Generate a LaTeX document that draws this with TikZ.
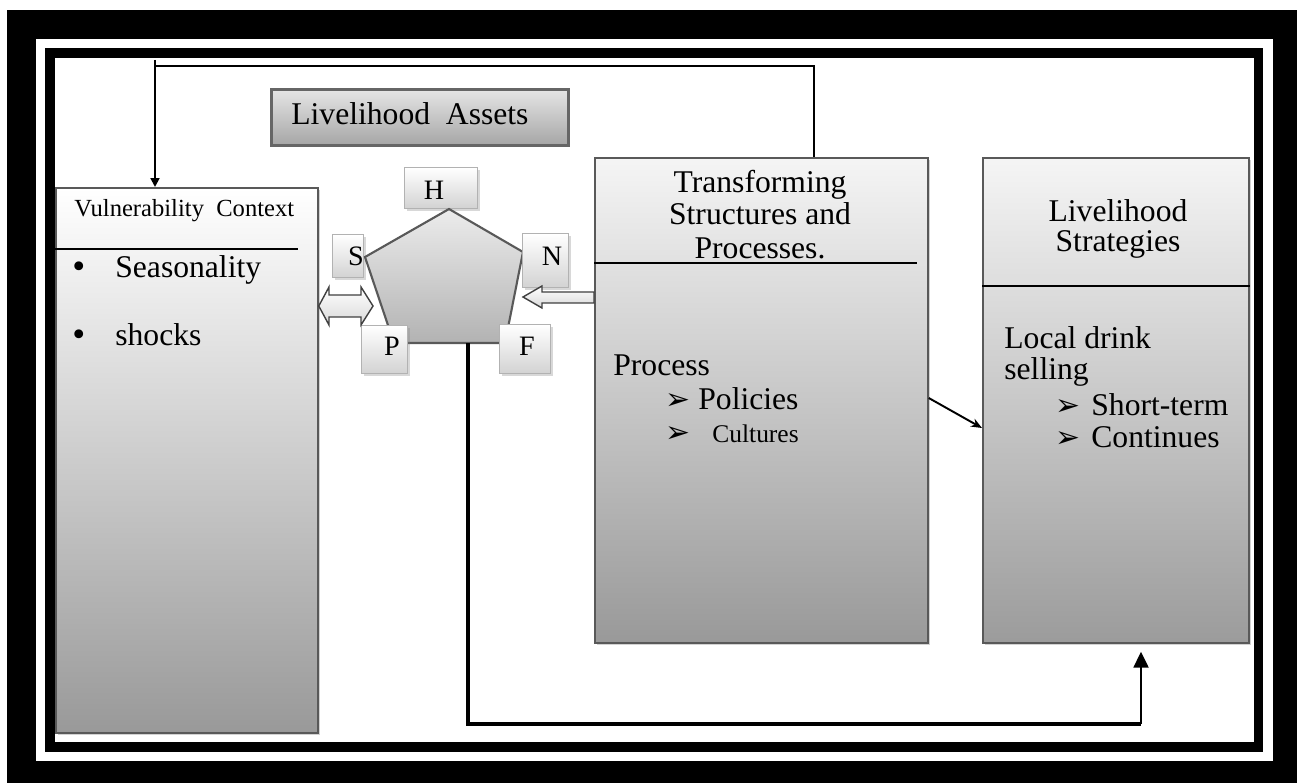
\documentclass[tikz,border=0pt]{standalone}
\usepackage{fontspec}
\setmainfont{Liberation Serif}
\newfontfamily\dingfont{DejaVu Sans}
\usetikzlibrary{positioning, arrows.meta, calc, shadows}

\newdimen\px \px=0.02cm
\newcommand{\arrowbullet}{{\dingfont\fontsize{17}{17}\selectfont ➢}}

\begin{document}
\begin{tikzpicture}[x=1\px, y=-1\px,
    mainbox/.style={draw=black!65, line width=1pt, anchor=north west, inner sep=0pt,
      drop shadow={shadow xshift=1pt, shadow yshift=-1pt, opacity=0.35}},
    letterbox/.style={draw=gray!60, line width=0.8pt, top color=white, bottom color=gray!35, anchor=north west, inner sep=0pt,
      drop shadow={shadow xshift=1.2pt, shadow yshift=-1.2pt, opacity=0.3}},
    blockarrow/.style={draw=black!75, line width=0.8pt, top color=white, bottom color=gray!30},
    txt/.style={inner sep=0pt, anchor=base west, font=\fontsize{18}{21}\selectfont},
    ctxt/.style={txt, anchor=base},
    letter/.style={inner sep=0pt, anchor=base, font=\fontsize{16}{18}\selectfont},
    conn/.style={line width=1.1pt}]
  \useasboundingbox (0,0) rectangle (1304,783);

  % Frame
  \fill[black] (7,10) rectangle (1297,783);
  \fill[white] (36,39) rectangle (1273,761);
  \fill[black] (45,48) rectangle (1263,752);
  \fill[white] (55,58) rectangle (1254,742);

  % Boxes
  \node[mainbox, top color=white, bottom color=gray!80, minimum width=262\px, minimum height=545\px] (vul) at (55,187) {};
  \node[mainbox, top color=gray!8, bottom color=gray!80, minimum width=333\px, minimum height=485\px] (trans) at (594,157) {};
  \node[mainbox, top color=gray!8, bottom color=gray!78, minimum width=266\px, minimum height=485\px] (strat) at (982,157) {};
  \node[mainbox, draw=black!60, line width=1.5pt, top color=gray!20, bottom color=gray!70, minimum width=297\px, minimum height=56\px] (assets) at (270,88) {};

  \draw[line width=0.8pt] (vul.west |- 0,249) -- (298,249);
  \draw[line width=0.8pt] (trans.west |- 0,263) -- (917,263);
  \draw[line width=0.8pt] (strat.west |- 0,286) -- (strat.east |- 0,286);

  % Vulnerability context
  \node[txt, font=\fontsize{14}{16}\selectfont] (vultitle) at (74,217) {Vulnerability\ \ Context};
  \node[txt, font=\fontsize{21}{21}\selectfont] (b1) at (72,279) {•};
  \node[txt] (seas) at (115,278) {Seasonality};
  \node[txt, font=\fontsize{21}{21}\selectfont] (b2) at (72,347) {•};
  \node[txt] (shocks) at (115,346) {shocks};

  % Livelihood assets
  \node[txt] (assetstitle) at (291,125) {Livelihood\ \ Assets};

  \node[letterbox, minimum width=73\px, minimum height=41\px] (hbox) at (404,167) {};
  \node[letterbox, minimum width=31\px, minimum height=43\px] (sbox) at (332,234) {};
  \draw[draw=black!65, line width=1.2pt, top color=gray!15, bottom color=gray!60]
    (449,209) -- (523,252) -- (505,343) -- (394,343) -- (365,257) -- cycle;
  \node[letterbox, minimum width=46\px, minimum height=54\px] (nbox) at (522,233) {};
  \node[letterbox, minimum width=46\px, minimum height=48\px] (pbox) at (361,325) {};
  \node[letterbox, minimum width=51\px, minimum height=49\px] (fbox) at (499,324) {};

  \node[letter] (h) at (434,200) {H};
  \node[letter] (s) at (356,266) {S};
  \node[letter] (n) at (552,266) {N};
  \node[letter] (p) at (392,356) {P};
  \node[letter] (f) at (527,356) {F};

  % Transforming structures and processes
  \node[ctxt] (t1) at (760,193) {Transforming};
  \node[ctxt] (t2) at (760,225) {Structures and};
  \node[ctxt] (t3) at (760,259) {Processes.};
  \node[txt] (proc) at (613,376) {Process};
  \node[txt] (pb1) at (665,410) {\arrowbullet};
  \node[txt] (pol) at (698,410) {Policies};
  \node[txt] (pb2) at (665,442) {\arrowbullet};
  \node[txt, font=\fontsize{14.5}{17}\selectfont] (cult) at (712,442) {Cultures};

  % Livelihood strategies
  \node[ctxt] (s1) at (1118,222) {Livelihood};
  \node[ctxt] (s2) at (1118,252) {Strategies};
  \node[txt] (local) at (1004,349) {Local drink};
  \node[txt] (sell) at (1004,380) {selling};
  \node[txt] (sb1) at (1055,416) {\arrowbullet};
  \node[txt] (short) at (1091,416) {Short-term};
  \node[txt] (sb2) at (1055,447) {\arrowbullet};
  \node[txt] (cont) at (1091,447) {Continues};

  % Block arrows
  \draw[blockarrow] (vul.east |- 0,306) -- (329,287) -- (329,295) -- (361,295) -- (361,287) -- (373,306)
    -- (361,325) -- (361,317) -- (329,317) -- (329,325) -- cycle;
  \draw[blockarrow] (523,297) -- (542,286) -- (542,292) -- (trans.west |- 0,292) -- (trans.west |- 0,303)
    -- (542,303) -- (542,308) -- cycle;

  % Connectors
  \coordinate (loopL) at (155,60);
  \coordinate (loopR) at (814,66);
  \draw[conn] (trans.north -| loopR) -- (loopR) -- (loopR -| loopL);
  \draw[conn, -{Triangle[length=5pt, width=5pt]}] (loopL) -- (loopL |- vul.north);

  \draw[conn, -{Stealth[length=6.2pt, width=5pt]}] (trans.east |- 0,398) -- (strat.west |- 0,428);

  \coordinate (pb) at (468,343);
  \coordinate (low) at (1141,724);
  \draw[line width=2.3pt] (pb) -- (pb |- low) -- (low);
  \draw[line width=1.2pt, -{Triangle[length=9pt, width=8.5pt]}] (low) -- ($(strat.south -| low)+(0,8)$);
\end{tikzpicture}
\end{document}
